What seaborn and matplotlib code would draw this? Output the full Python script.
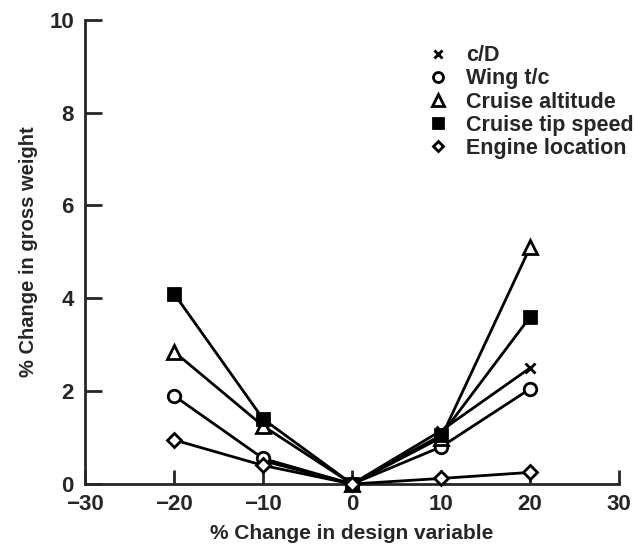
import numpy as np
import pandas as pd
import matplotlib
matplotlib.use("Agg")
import matplotlib.pyplot as plt
from matplotlib.lines import Line2D
import seaborn as sns

sns.set_theme(style="ticks")
plt.rcParams['font.family'] = ['Liberation Sans', 'DejaVu Sans']
plt.rcParams['font.weight'] = 'bold'

# Data
x_cd = [-10, 0, 10, 20]
y_cd = [0.5, 0, 1.15, 2.5]
x_full = [-20, -10, 0, 10, 20]
y_wing = [1.9, 0.55, 0, 0.8, 2.05]
y_alt = [2.85, 1.25, 0, 1.0, 5.1]
y_tip = [4.1, 1.4, 0, 1.05, 3.6]
y_engine = [0.95, 0.4, 0, 0.12, 0.25]

labels = ['c/D', 'Wing t/c', 'Cruise altitude', 'Cruise tip speed', 'Engine location']
series = [(x_cd, y_cd), (x_full, y_wing), (x_full, y_alt), (x_full, y_tip), (x_full, y_engine)]
markers = ['x', 'o', '^', 's', 'D']
facecolors = ['black', 'white', 'white', 'black', 'white']
msizes = [7, 9, 10, 9, 7]

fig = plt.figure(figsize=(6.35, 5.5), dpi=100)
ax = fig.add_axes([0.134, 0.12, 0.841, 0.844])

for (xs, ys), lab, m, fc, ms in zip(series, labels, markers, facecolors, msizes):
    df = pd.DataFrame({'x': xs, 'y': ys})
    sns.lineplot(data=df, x='x', y='y', ax=ax, color='black', lw=2,
                 marker=m, markersize=ms, markerfacecolor=fc,
                 markeredgecolor='black', markeredgewidth=2, legend=False,
                 clip_on=False, zorder=3)

ax.set_xlim(-30, 30)
ax.set_ylim(0, 10)
ax.set_xticks([-30, -20, -10, 0, 10, 20, 30])
ax.set_xticklabels(['\u221230', '\u221220', '\u221210', '0', '10', '20', '30'])
ax.set_yticks([0, 2, 4, 6, 8, 10])
ax.tick_params(axis='x', direction='in', length=10, width=2, labelsize=16, pad=7)
ax.tick_params(axis='y', direction='in', length=12, width=2, labelsize=16, pad=8)
for t in ax.get_xticklabels() + ax.get_yticklabels():
    t.set_fontweight('bold')
sns.despine(ax=ax)
ax.spines['left'].set_linewidth(2)
ax.spines['bottom'].set_linewidth(2)

ax.set_xlabel('% Change in design variable', fontsize=15, fontweight='bold', labelpad=7)
ax.set_ylabel('% Change in gross weight', fontsize=14.5, fontweight='bold', labelpad=8)

handles = [Line2D([], [], linestyle='none', marker=m, color='black',
                  markerfacecolor=fc, markeredgecolor='black', markeredgewidth=2,
                  markersize=ms * 0.8)
           for m, fc, ms in zip(markers, facecolors, msizes)]
leg = ax.legend(handles, labels, loc='upper left', bbox_to_anchor=(0.641, 0.945),
                frameon=False, fontsize=15.5, handlelength=1.0, handletextpad=0.8,
                labelspacing=0.1, borderaxespad=0, borderpad=0)
for t in leg.get_texts():
    t.set_fontweight('bold')

fig.savefig('out.png', dpi=100)
